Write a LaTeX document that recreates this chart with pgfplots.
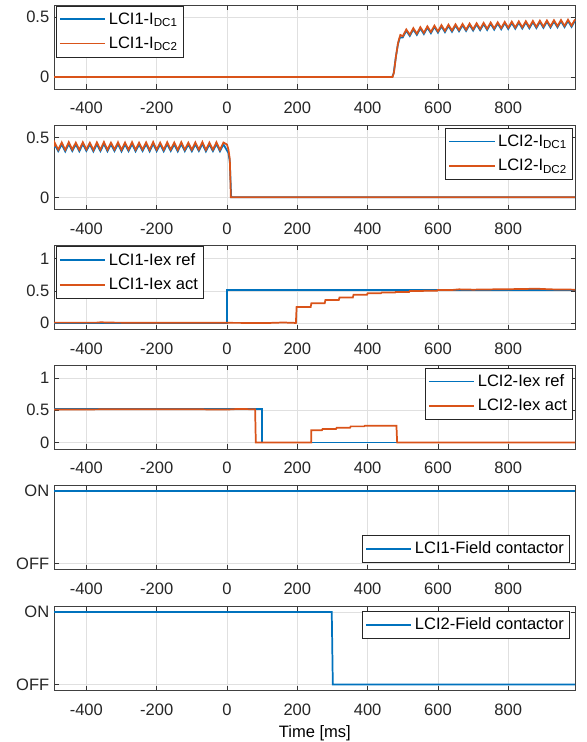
\documentclass[border=0pt]{standalone}
\usepackage{fontspec}
\setmainfont{Liberation Sans}
\usepackage{pgfplots}
\pgfplotsset{compat=1.18}

\definecolor{mblue}{rgb}{0,0.447,0.741}
\definecolor{morange}{rgb}{0.851,0.325,0.098}

\pgfplotsset{
  bl/.style={color=mblue, line width=1.3pt},
  og/.style={color=morange, line width=1.3pt},
  panel/.style={
    scale only axis, width=391.3pt, height=63pt,
    xmin=-492, xmax=992,
    xtick={-400,-200,0,200,400,600,800},
    xticklabels={-400,-200,0,200,400,600,800},
    grid=major, major grid style={black!12, line width=0.4pt},
    axis line style={black!75, line width=0.6pt},
    tick align=inside, major tick length=3.5pt,
    tick style={black!80, line width=0.5pt},
    ticklabel style={text=black!85},
    xticklabel style={yshift=-6.5pt},
    legend style={draw=black!85, fill=white, line width=0.5pt,
      inner xsep=2pt, inner ysep=3pt, row sep=4pt,
      cells={anchor=west}, text=black},
    legend image code/.code={\draw[#1] (0pt,0pt) -- (34pt,0pt);},
  },
  ia/.style={panel, ymin=-0.1, ymax=0.6, ytick={0,0.5}, yticklabels={0,0.5}},
  iex/.style={panel, ymin=-0.1, ymax=1.2, ytick={0,0.5,1}, yticklabels={0,0.5,1}},
  onoff/.style={panel, ymin=-0.08, ymax=1.08, ytick={0,1}, yticklabels={OFF,ON}},
}

\begin{document}
\begin{tikzpicture}[font=\fontsize{12.4}{14.5}\selectfont]
\path[use as bounding box] (0,0) rectangle (439.5pt,556.5pt);

% LCI1 DC currents
\begin{axis}[ia, at={(40.5pt,489.75pt)},
  legend style={at={(0.004,0.993)}, anchor=north west}]
\addplot[bl] coordinates {(-492,0)(470,0)(474,0.03)(480,0.16)(486,0.27)(492,0.33)
(500,0.330)(510,0.386)(520,0.342)(530,0.397)(540,0.351)(550,0.405)(560,0.358)(570,0.412)(580,0.365)(590,0.418)
(600,0.370)(610,0.422)(620,0.374)(630,0.426)(640,0.377)(650,0.429)(660,0.381)(670,0.432)(680,0.384)(690,0.435)
(700,0.387)(710,0.438)(720,0.390)(730,0.441)(740,0.392)(750,0.444)(760,0.395)(770,0.446)(780,0.398)(790,0.449)
(800,0.400)(810,0.451)(820,0.402)(830,0.453)(840,0.404)(850,0.455)(860,0.406)(870,0.457)(880,0.408)(890,0.459)
(900,0.410)(910,0.461)(920,0.412)(930,0.463)(940,0.414)(950,0.465)(960,0.416)(970,0.467)(980,0.418)(990,0.469)};
\addlegendentry{LCI1-I\textsubscript{DC1}}
\addplot[og] coordinates {(-492,0)(471,0)(475,0.04)(481,0.18)(487,0.29)(493,0.35)
(500,0.340)(510,0.396)(520,0.352)(530,0.407)(540,0.361)(550,0.415)(560,0.368)(570,0.422)(580,0.375)(590,0.428)
(600,0.380)(610,0.432)(620,0.384)(630,0.436)(640,0.387)(650,0.439)(660,0.391)(670,0.442)(680,0.394)(690,0.445)
(700,0.397)(710,0.448)(720,0.400)(730,0.451)(740,0.402)(750,0.454)(760,0.405)(770,0.456)(780,0.408)(790,0.459)
(800,0.410)(810,0.461)(820,0.412)(830,0.463)(840,0.414)(850,0.465)(860,0.416)(870,0.467)(880,0.418)(890,0.469)
(900,0.420)(910,0.471)(920,0.422)(930,0.473)(940,0.424)(950,0.475)(960,0.426)(970,0.477)(980,0.428)(990,0.479)};
\addlegendentry{LCI1-I\textsubscript{DC2}}
\end{axis}

% LCI2 DC currents
\begin{axis}[ia, at={(40.5pt,399.5pt)},
  legend style={at={(0.994,0.97)}, anchor=north east}]
\addplot[bl] coordinates {(-492,0.41)
(-490,0.440)(-480,0.385)(-470,0.442)(-460,0.383)(-450,0.445)(-440,0.386)(-430,0.441)(-420,0.384)(-410,0.444)(-400,0.387)
(-390,0.440)(-380,0.382)(-370,0.443)(-360,0.385)(-350,0.446)(-340,0.384)(-330,0.441)(-320,0.386)(-310,0.444)(-300,0.383)
(-290,0.442)(-280,0.385)(-270,0.445)(-260,0.384)(-250,0.440)(-240,0.386)(-230,0.443)(-220,0.383)(-210,0.446)(-200,0.385)
(-190,0.441)(-180,0.384)(-170,0.444)(-160,0.386)(-150,0.442)(-140,0.383)(-130,0.445)(-120,0.385)(-110,0.440)(-100,0.384)
(-90,0.443)(-80,0.386)(-70,0.446)(-60,0.383)(-50,0.441)(-40,0.385)(-30,0.444)(-20,0.384)(-10,0.442)(0,0.390)
(4,0.37)(8,0.30)(12,0)(990,0)};
\addlegendentry{LCI2-I\textsubscript{DC1}}
\addplot[og] coordinates {(-492,0.42)
(-490,0.455)(-480,0.397)(-470,0.457)(-460,0.395)(-450,0.460)(-440,0.398)(-430,0.456)(-420,0.396)(-410,0.459)(-400,0.399)
(-390,0.455)(-380,0.394)(-370,0.458)(-360,0.397)(-350,0.461)(-340,0.396)(-330,0.456)(-320,0.398)(-310,0.459)(-300,0.395)
(-290,0.457)(-280,0.397)(-270,0.460)(-260,0.396)(-250,0.455)(-240,0.398)(-230,0.458)(-220,0.395)(-210,0.461)(-200,0.397)
(-190,0.456)(-180,0.396)(-170,0.459)(-160,0.398)(-150,0.457)(-140,0.395)(-130,0.460)(-120,0.397)(-110,0.455)(-100,0.396)
(-90,0.458)(-80,0.398)(-70,0.461)(-60,0.395)(-50,0.456)(-40,0.397)(-30,0.459)(-20,0.396)(-10,0.457)(0,0.440)
(4,0.40)(8,0.32)(11,0)(990,0)};
\addlegendentry{LCI2-I\textsubscript{DC2}}
\end{axis}

% LCI1 excitation current
\begin{axis}[iex, at={(40.5pt,309.2pt)},
  legend style={at={(0.004,0.993)}, anchor=north west}]
\addplot[bl] coordinates {(-492,0)(0,0)(0,0.52)(990,0.52)};
\addlegendentry{LCI1-Iex ref}
\addplot[og] coordinates {(-492,0.01)(-370,0.01)(-360,0.015)(-320,0.01)(120,0.005)(160,0.012)(196,0.005)
(198,0.25)(238,0.25)(240,0.31)(278,0.31)(280,0.36)(318,0.36)(320,0.40)(358,0.40)(360,0.44)(398,0.44)
(400,0.465)(438,0.465)(440,0.475)(478,0.475)(480,0.485)(518,0.485)(520,0.50)(558,0.50)(560,0.505)(598,0.505)
(600,0.515)(640,0.515)(660,0.525)(700,0.52)(760,0.525)(840,0.53)(880,0.535)(920,0.525)(990,0.52)};
\addlegendentry{LCI1-Iex act}
\end{axis}

% LCI2 excitation current
\begin{axis}[iex, at={(40.5pt,219.75pt)},
  legend style={at={(0.994,0.97)}, anchor=north east}]
\addplot[bl] coordinates {(-492,0.52)(100,0.52)(100,0)(990,0)};
\addlegendentry{LCI2-Iex ref}
\addplot[og] coordinates {(-492,0.51)(-300,0.515)(-100,0.515)(0,0.51)(30,0.52)(80,0.515)(82,0)
(240,0)(240,0.19)(270,0.19)(272,0.21)(310,0.21)(312,0.23)(350,0.23)(352,0.25)(390,0.25)(392,0.26)(482,0.26)(484,0)(990,0)};
\addlegendentry{LCI2-Iex act}
\end{axis}

% LCI1 field contactor
\begin{axis}[onoff, at={(40.5pt,129.5pt)},
  legend style={at={(0.988,0.079)}, anchor=south east}]
\addplot[bl] coordinates {(-492,1)(990,1)};
\addlegendentry{LCI1-Field contactor}
\end{axis}

% LCI2 field contactor
\begin{axis}[onoff, at={(40.5pt,38.8pt)}, xlabel={Time [ms]},
  xlabel style={yshift=-1pt},
  legend style={at={(0.988,0.944)}, anchor=north east}]
\addplot[bl] coordinates {(-492,1)(298,1)(301,0)(990,0)};
\addlegendentry{LCI2-Field contactor}
\end{axis}
\end{tikzpicture}
\end{document}
